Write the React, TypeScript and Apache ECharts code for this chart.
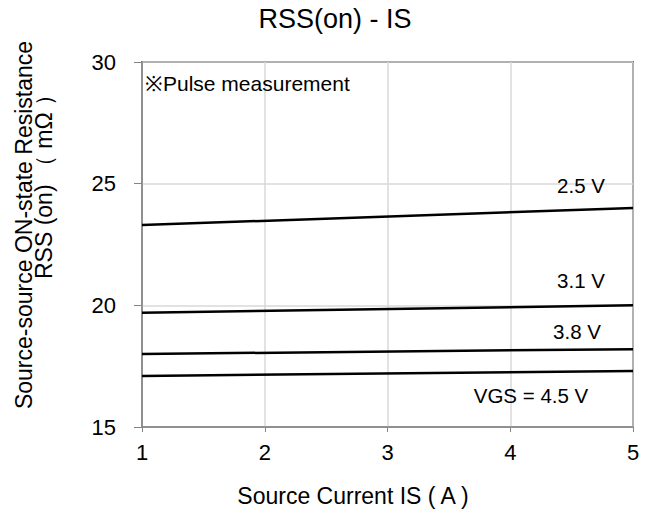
import React, { useEffect, useRef } from "react";
import * as echarts from "echarts";

const xValues = [1, 5];
const v25 = [23.3, 24.0];
const v31 = [19.7, 20.0];
const v38 = [18.0, 18.2];
const v45 = [17.1, 17.3];
const seriesNames = ["2.5 V", "3.1 V", "3.8 V", "VGS = 4.5 V"];
const yTicks = [15, 20, 25, 30];
const xTicks = [1, 2, 3, 4, 5];

const FONT = "'Liberation Sans', Arial, sans-serif";

export default function App() {
  const ref = useRef<HTMLDivElement>(null);
  useEffect(() => {
    if (!ref.current) return;
    const chart = echarts.init(ref.current, undefined, { renderer: "svg" });
    const all = [v25, v31, v38, v45];
    const mk = (name: string, vals: number[]) => ({
      name,
      type: "line",
      data: xValues.map((x, i) => [x, vals[i]]),
      symbol: "none",
      lineStyle: { color: "#000", width: 2.5 },
      z: 5,
    });
    const txt = (text: string, x: number, y: number, size: number, align = "center", extra: any = {}) => ({
      type: "text",
      x,
      y,
      z: 10,
      ...extra,
      style: { text, fontFamily: FONT, fontSize: size, fill: "#000", textAlign: align, textVerticalAlign: "middle" },
    });
    chart.setOption({
      animation: false,
      backgroundColor: "#fff",
      grid: {
        left: 142,
        top: 62,
        right: 15,
        bottom: 90,
        show: true,
        borderColor: "#000",
        borderWidth: 1.5,
        backgroundColor: "#fff",
      },
      xAxis: {
        type: "value",
        min: xTicks[0],
        max: xTicks[xTicks.length - 1],
        interval: 1,
        axisLine: { lineStyle: { color: "#868686", width: 1.5 } },
        axisTick: { show: true, length: 5, lineStyle: { color: "#868686" } },
        axisLabel: { color: "#000", fontSize: 22, fontFamily: FONT, margin: 14 },
        splitLine: { show: true, lineStyle: { color: "#d9d9d9", width: 1.5 } },
      },
      yAxis: {
        type: "value",
        min: yTicks[0],
        max: yTicks[yTicks.length - 1],
        interval: 5,
        axisLine: { show: true, lineStyle: { color: "#868686", width: 1.5 } },
        axisTick: { show: true, length: 8, lineStyle: { color: "#868686" } },
        axisLabel: { color: "#000", fontSize: 22, fontFamily: FONT, margin: 26 },
        splitLine: { show: true, lineStyle: { color: "#d9d9d9", width: 1.5 } },
      },
      graphic: [
        txt("RSS(on) - IS", 335, 19, 27),
        txt("Source Current IS ( A )", 353, 496, 23),
        txt("Source-source ON-state Resistance", 24, 225, 23, "center", { rotation: Math.PI / 2 }),
        txt("RSS (on) （ mΩ ）", 44, 181, 23, "center", { rotation: Math.PI / 2 }),
        txt("※Pulse measurement", 145, 83, 21, "left"),
        txt(seriesNames[0], 581, 185, 20.5),
        txt(seriesNames[1], 581, 280, 20.5),
        txt(seriesNames[2], 577, 331, 20.5),
        txt(seriesNames[3], 531, 395, 20.5),
      ],
      series: all.map((vals, i) => mk(seriesNames[i], vals)),
    });
    return () => chart.dispose();
  }, []);
  return <div ref={ref} style={{ width: 648, height: 517, position: "absolute", left: 0, top: 0 }} />;
}
